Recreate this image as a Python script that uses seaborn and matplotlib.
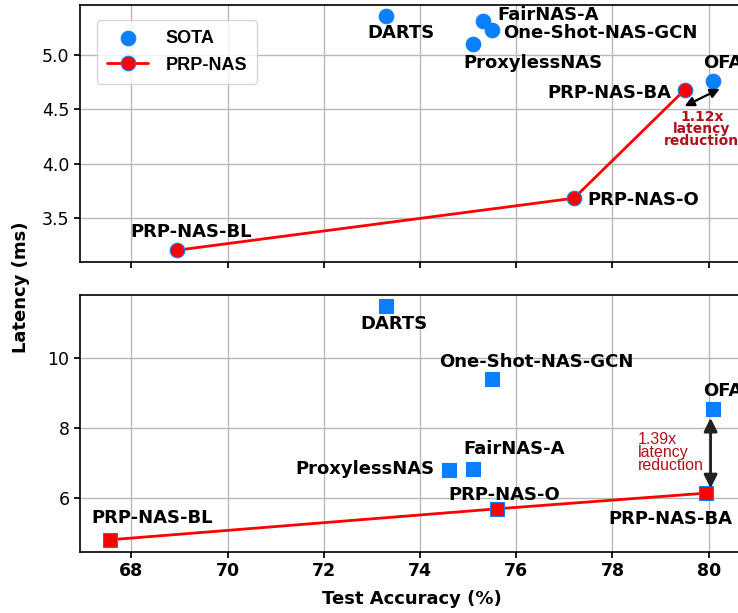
import matplotlib
matplotlib.use("Agg")
import matplotlib.pyplot as plt
import seaborn as sns
import pandas as pd

# ---------------- data ----------------
sota_names = ["DARTS", "FairNAS-A", "One-Shot-NAS-GCN", "ProxylessNAS", "OFA"]
sota_acc_top = [73.3, 75.3, 75.5, 75.1, 80.1]
sota_lat_top = [5.36, 5.32, 5.23, 5.10, 4.76]
sota_acc_bot = [73.3, 75.1, 75.5, 74.6, 80.1]
sota_lat_bot = [11.5, 6.82, 9.40, 6.79, 8.55]

prp_names = ["PRP-NAS-BL", "PRP-NAS-O", "PRP-NAS-BA"]
prp_acc_top = [68.95, 77.2, 79.5]
prp_lat_top = [3.20, 3.68, 4.68]
prp_acc_bot = [67.55, 75.6, 79.94]
prp_lat_bot = [4.79, 5.68, 6.13]

x_ticks = [68, 70, 72, 74, 76, 78, 80]
y_ticks_top = [3.5, 4.0, 4.5, 5.0]
y_ticks_bot = [6, 8, 10]

# ---------------- layout ----------------
top_labels = {
    "DARTS": (73.6, 5.206, "center"),
    "FairNAS-A": (75.61, 5.37, "left"),
    "One-Shot-NAS-GCN": (75.73, 5.203, "left"),
    "ProxylessNAS": (76.34, 4.926, "center"),
    "OFA": (79.88, 4.926, "left"),
    "PRP-NAS-BA": (79.23, 4.65, "right"),
    "PRP-NAS-O": (77.47, 3.663, "left"),
    "PRP-NAS-BL": (69.23, 3.37, "center"),
}
bot_labels = {
    "DARTS": (73.45, 10.98, "center"),
    "One-Shot-NAS-GCN": (76.42, 9.885, "center"),
    "OFA": (79.88, 9.05, "left"),
    "ProxylessNAS": (74.31, 6.82, "right"),
    "FairNAS-A": (75.96, 7.39, "center"),
    "PRP-NAS-O": (75.74, 6.08, "center"),
    "PRP-NAS-BA": (79.21, 5.38, "center"),
    "PRP-NAS-BL": (68.42, 5.43, "center"),
}

BLUE = "#0a80ff"
RED = "#ff0000"
DARKRED = "#b0121b"

sns.set_theme(style="ticks", rc={
    "axes.grid": True,
    "grid.color": "#b8b8b8",
    "grid.linewidth": 1.0,
    "axes.edgecolor": "black",
    "axes.linewidth": 1.2,
    "xtick.color": "black",
    "ytick.color": "black",
    "xtick.labelcolor": "black",
    "ytick.labelcolor": "black",
    "text.color": "black",
    "axes.labelcolor": "black",
    "xtick.major.size": 4,
    "ytick.major.size": 4,
})
plt.rcParams["font.family"] = ["DejaVu Sans"]

fig = plt.figure(figsize=(7.38, 6.13), dpi=100)
W, H = 738, 613
x_left_px = 80
xlim = (66.93, 81.0)
px_per_unit = 48.1
ax_w = (xlim[1] - xlim[0]) * px_per_unit / W
ax_top = fig.add_axes([x_left_px / W, 1 - 262 / H, ax_w, 257 / H])
ax_bot = fig.add_axes([x_left_px / W, 1 - 552 / H, ax_w, 257 / H])

df_sota_top = pd.DataFrame({"acc": sota_acc_top, "lat": sota_lat_top, "name": sota_names})
df_sota_bot = pd.DataFrame({"acc": sota_acc_bot, "lat": sota_lat_bot, "name": sota_names})
df_prp_top = pd.DataFrame({"acc": prp_acc_top, "lat": prp_lat_top, "name": prp_names})
df_prp_bot = pd.DataFrame({"acc": prp_acc_bot, "lat": prp_lat_bot, "name": prp_names})

for ax, dsota, dprp, marker in [(ax_top, df_sota_top, df_prp_top, "o"),
                                (ax_bot, df_sota_bot, df_prp_bot, "s")]:
    sns.scatterplot(data=dsota, x="acc", y="lat", ax=ax, marker=marker, s=110,
                    color=BLUE, edgecolor=BLUE, linewidth=0.8, zorder=3, label="SOTA")
    sns.lineplot(data=dprp, x="acc", y="lat", ax=ax, sort=False, color=RED, lw=2,
                 marker=marker, markersize=10.5, markerfacecolor=RED,
                 markeredgecolor=BLUE, markeredgewidth=0.8, zorder=4, label="PRP-NAS")
    ax.set_xlim(*xlim)
    ax.set_xticks(x_ticks)
    ax.set_xlabel("")
    ax.set_ylabel("")
    ax.grid(True, zorder=0)
    ax.set_axisbelow(True)
    ax.tick_params(axis="both", labelsize=12.5, colors="black")

ax_top.set_ylim(3.091, 5.464)
ax_top.set_yticks(y_ticks_top)
ax_top.tick_params(axis="x", labelbottom=False)
ax_bot.set_ylim(4.44, 11.82)
ax_bot.set_yticks(y_ticks_bot)
for lab in ax_bot.get_xticklabels():
    lab.set_fontweight("bold")

ax_bot.get_legend().remove()
leg = ax_top.legend(loc="upper left", bbox_to_anchor=(0.025, 0.942), borderaxespad=0,
                    prop={"family": "Liberation Sans", "weight": "bold", "size": 13},
                    frameon=True, fancybox=True, handlelength=2.3, handletextpad=0.95,
                    labelspacing=0.55, borderpad=0.55,
                    framealpha=0.8, edgecolor="#cccccc")
for t in leg.get_texts():
    t.set_color("black")

for ax, labels in [(ax_top, top_labels), (ax_bot, bot_labels)]:
    for name, (x, y, ha) in labels.items():
        ax.text(x, y, name, ha=ha, va="center", fontsize=13, fontweight="bold",
                color="black", zorder=5)

# annotations
ax_top.annotate("", xy=(80.23, 4.69), xytext=(79.5, 4.53),
                arrowprops=dict(arrowstyle="<|-|>", color="black", lw=1.6,
                                mutation_scale=14, shrinkA=0, shrinkB=0), zorder=6)
ax_top.text(79.86, 4.32, "1.12x\nlatency\nreduction", ha="center", va="center",
            fontsize=10, fontweight="bold", color=DARKRED, linespacing=0.85, zorder=6)

ax_bot.annotate("", xy=(80.04, 8.29), xytext=(80.04, 6.27),
                arrowprops=dict(arrowstyle="<|-|>", color="#222222", lw=2,
                                mutation_scale=20, shrinkA=0, shrinkB=0), zorder=6)
ax_bot.text(78.53, 7.30, "1.39x\nlatency\nreduction", ha="left", va="center",
            fontsize=11.5, family="Liberation Sans", color=DARKRED, linespacing=0.85, zorder=6)

fig.text(21 / W, 1 - 287 / H, "Latency (ms)", rotation=90, ha="center", va="center",
         fontsize=13, fontweight="bold")
fig.text(411.7 / W, 1 - 599 / H, "Test Accuracy (%)", ha="center", va="center",
         fontsize=13, fontweight="bold")

fig.savefig("out.png", dpi=100)
